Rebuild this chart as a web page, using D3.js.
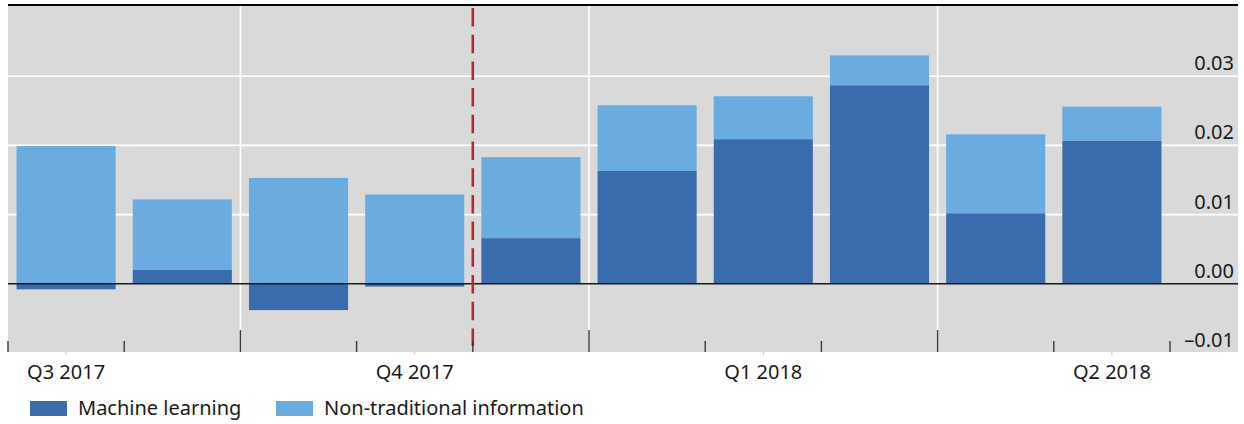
<!DOCTYPE html>
<html>
<head>
<meta charset="utf-8">
<script src="https://cdn.jsdelivr.net/npm/d3@7"></script>
<style>
  body { margin: 0; background: #fff; }
  svg text { font-family: "Noto Sans", "Open Sans", sans-serif; fill: #1a1a1a; }
</style>
</head>
<body>
<svg id="viz" width="1244" height="424"></svg>
<script>
const width = 1244;
const height = 424;
const svg = d3.select("#viz");

// data (monthly)
const months = ["2017-08", "2017-09", "2017-10", "2017-11", "2017-12",
                "2018-01", "2018-02", "2018-03", "2018-04", "2018-05"];
const machineLearning = [-0.0008, 0.0020, -0.0038, -0.0004, 0.0066, 0.0163, 0.0209, 0.0287, 0.0102, 0.0207];
const nonTraditional  = [0.0199, 0.0102, 0.0153, 0.0129, 0.0117, 0.0095, 0.0062, 0.0043, 0.0114, 0.0049];
const quarterLabels = ["Q3 2017", "Q4 2017", "Q1 2018", "Q2 2018"];
const quarterLabelMonths = ["2017-08", "2017-11", "2018-02", "2018-05"];
const quarterStarts = ["2017-10", "2018-01", "2018-04"];
const markerMonth = "2017-12";   // red dashed line before this month
const yTicks = [-0.01, 0, 0.01, 0.02, 0.03];
const seriesNames = ["Machine learning", "Non-traditional information"];
const colors = ["#3a6bad", "#6aace0"];

const plot = { left: 8, right: 1238, top: 6, bottom: 352 };

const x = d3.scaleBand()
    .domain(months)
    .range([plot.left, 1170])
    .paddingInner(0.147)
    .paddingOuter(0.0735);

const y = d3.scaleLinear()
    .domain([-0.01, 0.04])
    .range([353, 7]);

// left edge of a month's slot
const slotStart = m => x(m) - x.step() * x.paddingInner() / 2;

// background
svg.append("rect")
    .attr("x", plot.left).attr("y", plot.top)
    .attr("width", plot.right - plot.left)
    .attr("height", plot.bottom - plot.top)
    .attr("fill", "#d9d9d9");

svg.append("line")
    .attr("x1", plot.left).attr("x2", plot.right)
    .attr("y1", 5).attr("y2", 5)
    .attr("stroke", "#000").attr("stroke-width", 1.8);

// grid
svg.selectAll(".hgrid")
    .data(yTicks.filter(d => d > 0))
    .enter().append("line")
    .attr("x1", plot.left).attr("x2", plot.right)
    .attr("y1", d => y(d)).attr("y2", d => y(d))
    .attr("stroke", "#fff").attr("stroke-width", 1.6);

svg.selectAll(".vgrid")
    .data(quarterStarts)
    .enter().append("line")
    .attr("x1", d => slotStart(d)).attr("x2", d => slotStart(d))
    .attr("y1", plot.top).attr("y2", plot.bottom)
    .attr("stroke", "#fff").attr("stroke-width", 1.6);

// stacked bars
const rows = months.map((m, i) => ({ month: m, ml: machineLearning[i], nti: nonTraditional[i] }));
const stacked = d3.stack()
    .keys(["ml", "nti"])
    .offset(d3.stackOffsetDiverging)(rows);

svg.selectAll(".series")
    .data(stacked)
    .enter().append("g")
    .attr("fill", (d, i) => colors[i])
    .selectAll("rect")
    .data(d => d)
    .enter().append("rect")
    .attr("x", d => x(d.data.month))
    .attr("width", x.bandwidth())
    .attr("y", d => y(Math.max(d[0], d[1])))
    .attr("height", d => Math.abs(y(d[0]) - y(d[1])));

// zero line
svg.append("line")
    .attr("x1", plot.left).attr("x2", plot.right)
    .attr("y1", y(0)).attr("y2", y(0))
    .attr("stroke", "#1a1a1a").attr("stroke-width", 1.5);

// red dashed marker
svg.append("line")
    .attr("x1", slotStart(markerMonth)).attr("x2", slotStart(markerMonth))
    .attr("y1", 8).attr("y2", 346)
    .attr("stroke", "#b52a2a").attr("stroke-width", 2.6)
    .attr("stroke-dasharray", "18.5,8.2");

// x ticks at month boundaries
const boundaries = months.map(slotStart).concat([slotStart(months[9]) + x.step()]);
svg.selectAll(".xtick")
    .data(boundaries)
    .enter().append("line")
    .attr("x1", d => d).attr("x2", d => d)
    .attr("y1", (d, i) => quarterStarts.includes(months[i]) ? 330 : 341)
    .attr("y2", plot.bottom)
    .attr("stroke", "#3a3a3a").attr("stroke-width", 1.4);

// small marks under quarter labels
svg.selectAll(".qtick")
    .data(quarterLabelMonths)
    .enter().append("line")
    .attr("x1", d => x(d) + x.bandwidth() / 2).attr("x2", d => x(d) + x.bandwidth() / 2)
    .attr("y1", plot.bottom).attr("y2", plot.bottom + 3)
    .attr("stroke", "#c8c8c8").attr("stroke-width", 1);

svg.selectAll(".qlabel")
    .data(quarterLabels)
    .enter().append("text")
    .attr("x", (d, i) => x(quarterLabelMonths[i]) + x.bandwidth() / 2)
    .attr("y", 379)
    .attr("text-anchor", "middle")
    .style("font-size", "20px")
    .text(d => d);

// y labels on the right, sitting above their gridline
svg.selectAll(".ylabel")
    .data(yTicks)
    .enter().append("text")
    .attr("x", 1234)
    .attr("y", d => y(d) - 6)
    .attr("text-anchor", "end")
    .style("font-size", "20px")
    .text(d => d < 0 ? "\u2013" + d3.format(".2f")(-d) : d3.format(".2f")(d));

// legend
const legendX = [30, 276];
const legend = svg.selectAll(".legend")
    .data(seriesNames)
    .enter().append("g")
    .attr("transform", (d, i) => `translate(${legendX[i]},401)`);

legend.append("rect")
    .attr("width", 37).attr("height", 15)
    .attr("fill", (d, i) => colors[i]);

legend.append("text")
    .attr("x", 48).attr("y", 14)
    .style("font-size", "20px")
    .text(d => d);
</script>
</body>
</html>
